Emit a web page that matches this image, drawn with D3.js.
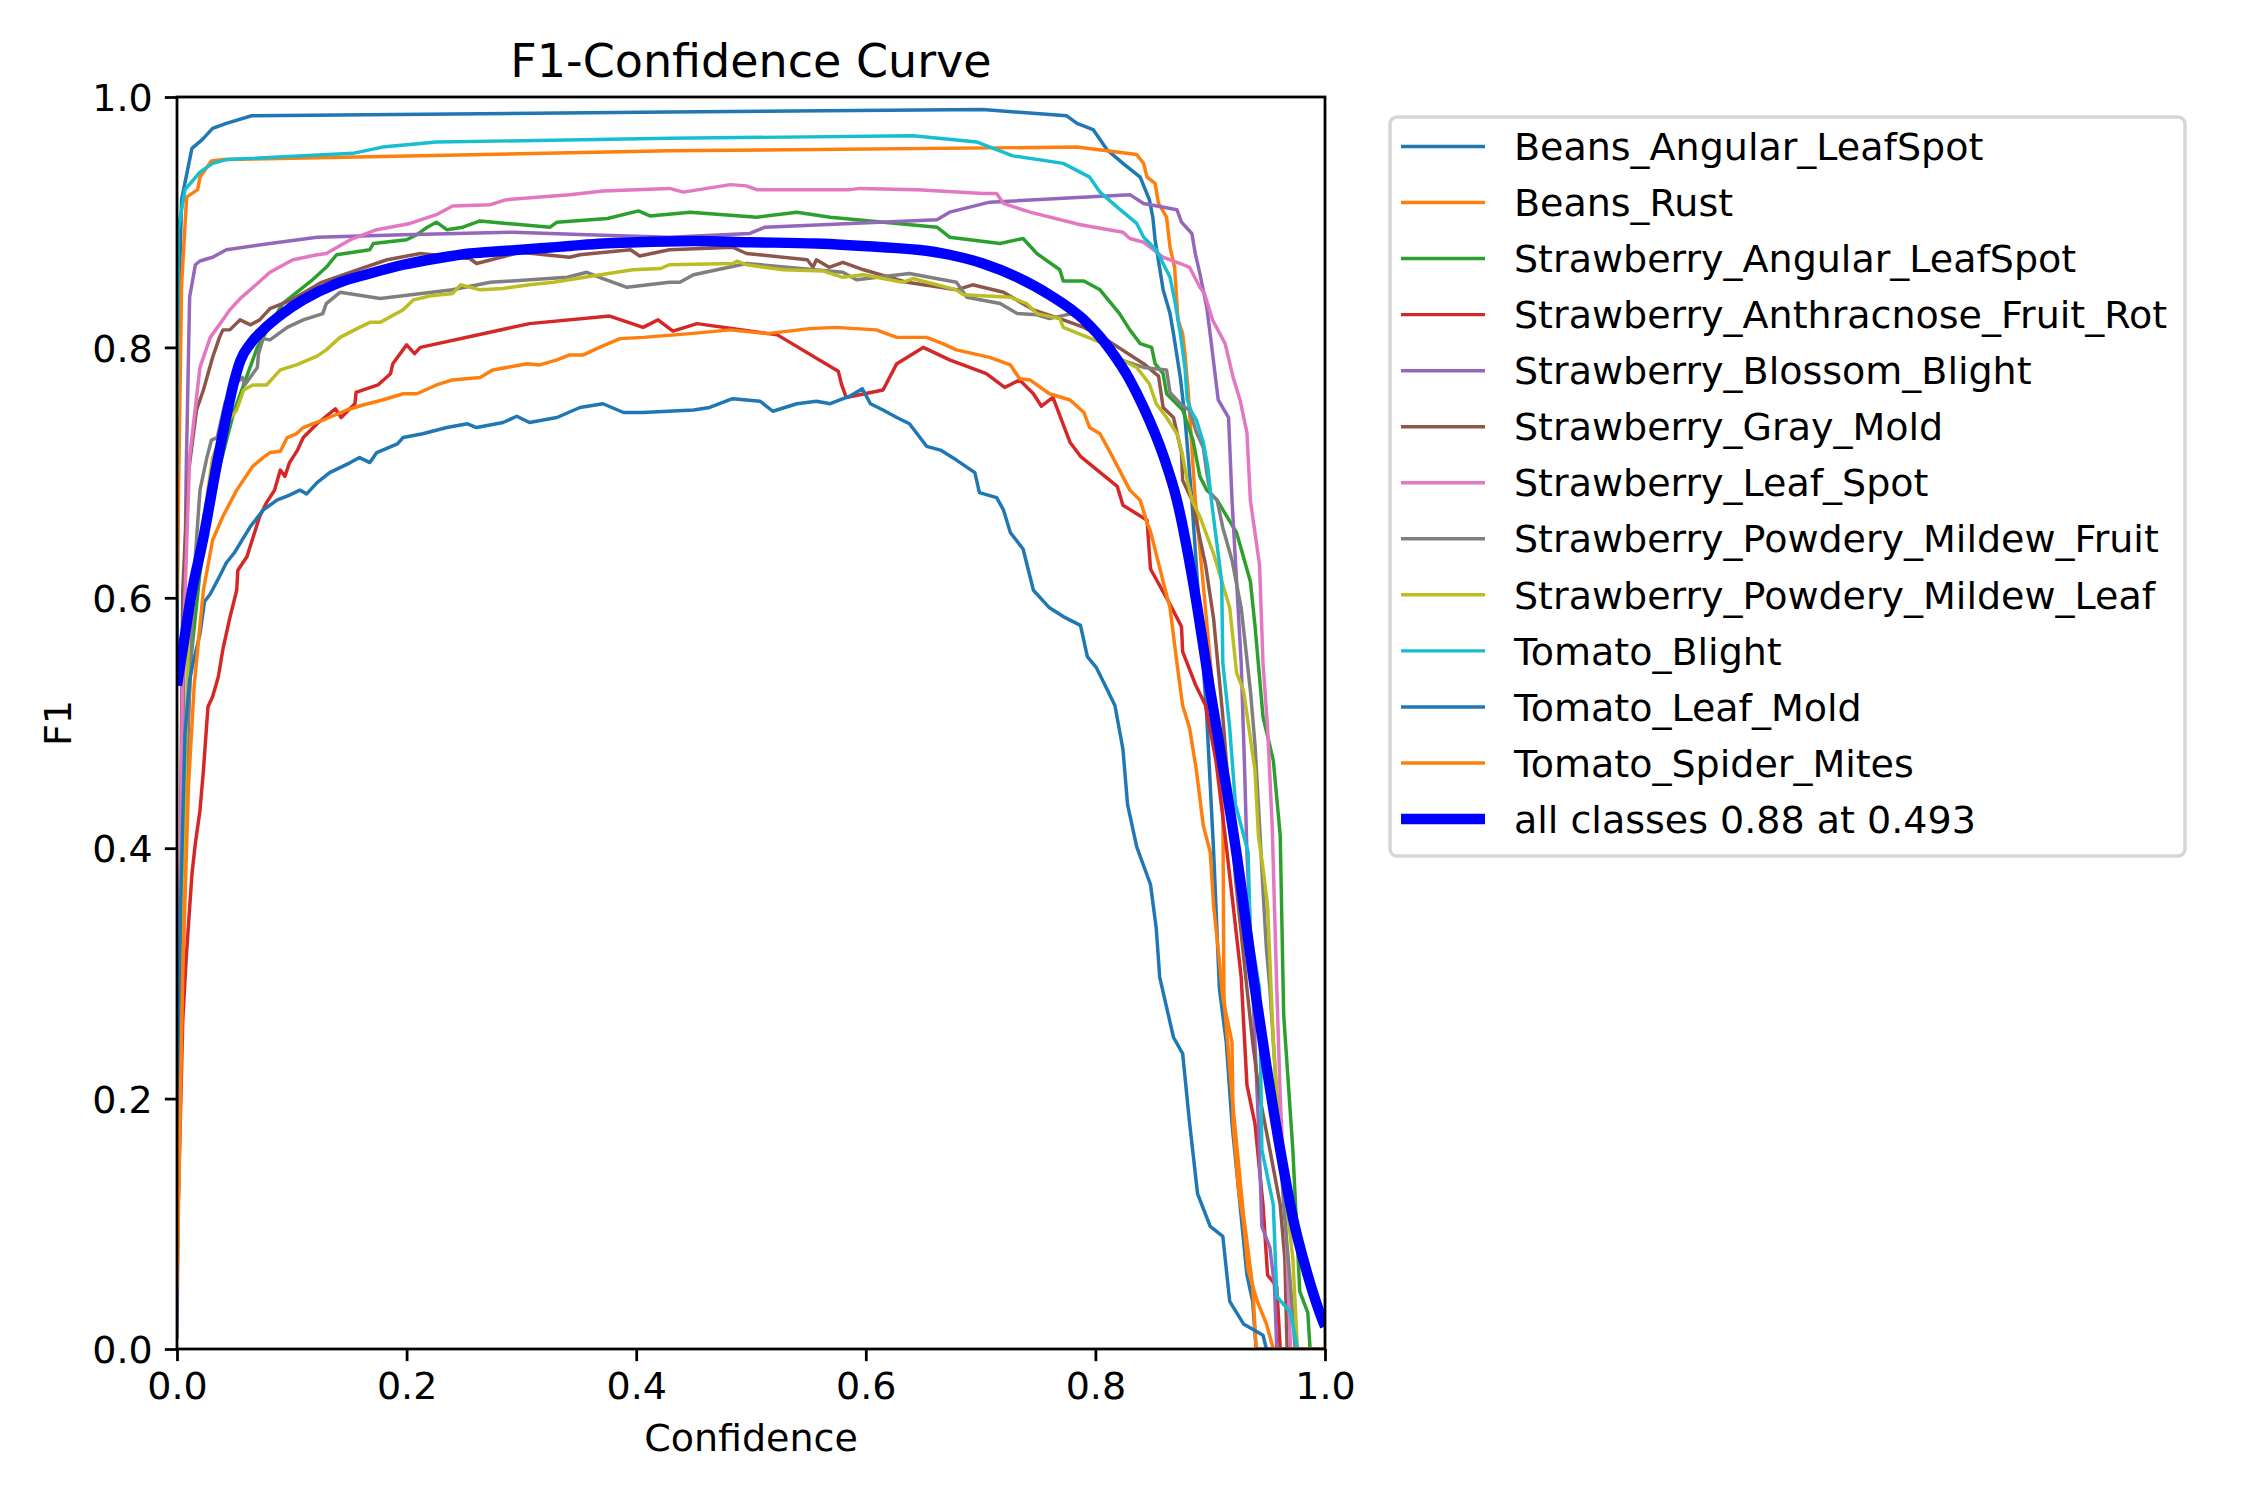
<!DOCTYPE html>
<html>
<head>
<meta charset="utf-8">
<script src="https://cdn.jsdelivr.net/npm/d3@7"></script>
<style>
  body { margin: 0; background: #fff; }
  svg { display: block; font-family: "DejaVu Sans", sans-serif; }
</style>
</head>
<body>
<div id="chart"></div>
<script>
// class names in plotting order
const classNames = [
    "Beans_Angular_LeafSpot", "Beans_Rust", "Strawberry_Angular_LeafSpot",
    "Strawberry_Anthracnose_Fruit_Rot", "Strawberry_Blossom_Blight", "Strawberry_Gray_Mold",
    "Strawberry_Leaf_Spot", "Strawberry_Powdery_Mildew_Fruit", "Strawberry_Powdery_Mildew_Leaf",
    "Tomato_Blight", "Tomato_Leaf_Mold", "Tomato_Spider_Mites"
];
const meanLabel = "all classes 0.88 at 0.493";
const xTicks = [0, 0.2, 0.4, 0.6, 0.8, 1.0];
const yTicks = [0, 0.2, 0.4, 0.6, 0.8, 1.0];

// [confidence, F1]
const beansAngularLeafSpot = [[0,0.55],[0.002,0.85],[0.004,0.918],[0.013,0.959],[0.022,0.966],[0.031,0.975],[0.043,0.979],[0.065,0.985],[0.429,0.988],[0.702,0.990],[0.775,0.985],[0.784,0.979],[0.798,0.974],[0.81,0.958],[0.824,0.947],[0.839,0.936],[0.847,0.918],[0.85,0.904],[0.852,0.886],[0.859,0.846],[0.865,0.827],[0.868,0.811],[0.874,0.776],[0.878,0.744],[0.884,0.678],[0.897,0.505],[0.903,0.397],[0.908,0.288],[0.914,0.245],[0.919,0.18],[0.926,0.115],[0.932,0.059],[0.937,0.038],[0.94,0],[1,0]];
const beansRust = [[0,0.6],[0.004,0.85],[0.0084,0.92],[0.018,0.926],[0.02,0.936],[0.03,0.949],[0.04,0.95],[0.429,0.957],[0.784,0.96],[0.836,0.954],[0.842,0.947],[0.845,0.936],[0.852,0.931],[0.855,0.915],[0.862,0.904],[0.865,0.88],[0.869,0.864],[0.872,0.822],[0.876,0.811],[0.878,0.795],[0.881,0.763],[0.884,0.72],[0.887,0.678],[0.895,0.6],[0.905,0.5],[0.911,0.44],[0.912,0.28],[0.919,0.202],[0.929,0.107],[0.937,0.05],[0.94,0],[1,0]];
const strawberryAngularLeafSpot = [[0,0.15],[0.003,0.3],[0.008,0.47],[0.012,0.55],[0.02,0.62],[0.03,0.68],[0.05,0.75],[0.07,0.8],[0.092,0.835],[0.118,0.854],[0.13,0.864],[0.139,0.874],[0.168,0.878],[0.171,0.883],[0.2,0.886],[0.209,0.89],[0.218,0.896],[0.226,0.9],[0.235,0.894],[0.249,0.896],[0.264,0.901],[0.287,0.899],[0.325,0.896],[0.331,0.9],[0.375,0.903],[0.402,0.909],[0.412,0.905],[0.447,0.908],[0.505,0.904],[0.54,0.908],[0.569,0.904],[0.662,0.896],[0.673,0.888],[0.717,0.883],[0.737,0.887],[0.749,0.875],[0.769,0.862],[0.772,0.853],[0.79,0.853],[0.804,0.846],[0.821,0.827],[0.83,0.814],[0.839,0.803],[0.849,0.8],[0.852,0.787],[0.859,0.779],[0.862,0.763],[0.876,0.75],[0.885,0.726],[0.891,0.697],[0.897,0.686],[0.906,0.678],[0.923,0.652],[0.935,0.613],[0.939,0.578],[0.946,0.505],[0.955,0.47],[0.961,0.41],[0.964,0.267],[0.972,0.159],[0.978,0.046],[0.985,0.029],[0.987,0],[1,0]];
const strawberryAnthracnoseFruitRot = [[0,0.08],[0.002,0.15],[0.005,0.262],[0.008,0.312],[0.013,0.379],[0.016,0.404],[0.02,0.43],[0.023,0.462],[0.027,0.513],[0.031,0.521],[0.036,0.537],[0.04,0.559],[0.046,0.584],[0.052,0.606],[0.053,0.622],[0.061,0.633],[0.072,0.665],[0.078,0.676],[0.085,0.686],[0.09,0.702],[0.094,0.697],[0.098,0.708],[0.105,0.718],[0.11,0.728],[0.122,0.739],[0.138,0.751],[0.143,0.744],[0.155,0.755],[0.156,0.764],[0.175,0.77],[0.186,0.779],[0.188,0.787],[0.2,0.802],[0.207,0.795],[0.212,0.8],[0.307,0.819],[0.377,0.825],[0.406,0.816],[0.419,0.822],[0.432,0.813],[0.453,0.819],[0.523,0.81],[0.576,0.781],[0.579,0.77],[0.583,0.76],[0.615,0.766],[0.627,0.787],[0.65,0.8],[0.673,0.79],[0.705,0.779],[0.721,0.768],[0.734,0.774],[0.746,0.763],[0.753,0.753],[0.763,0.76],[0.778,0.724],[0.787,0.713],[0.819,0.689],[0.824,0.674],[0.845,0.662],[0.848,0.623],[0.862,0.6],[0.875,0.577],[0.876,0.557],[0.887,0.531],[0.896,0.514],[0.905,0.47],[0.913,0.41],[0.92,0.354],[0.927,0.297],[0.932,0.211],[0.939,0.18],[0.946,0.115],[0.95,0.059],[0.958,0.05],[0.961,0],[1,0]];
const strawberryBlossomBlight = [[0,0.01],[0.004,0.4],[0.008,0.7],[0.011,0.84],[0.016,0.866],[0.02,0.869],[0.031,0.872],[0.043,0.878],[0.081,0.883],[0.122,0.888],[0.197,0.89],[0.293,0.892],[0.357,0.89],[0.429,0.888],[0.499,0.891],[0.512,0.896],[0.662,0.902],[0.673,0.908],[0.708,0.916],[0.83,0.922],[0.842,0.915],[0.871,0.91],[0.875,0.9],[0.884,0.891],[0.887,0.875],[0.891,0.859],[0.897,0.832],[0.901,0.803],[0.907,0.758],[0.916,0.744],[0.919,0.678],[0.923,0.613],[0.927,0.548],[0.93,0.462],[0.932,0.397],[0.937,0.288],[0.942,0.18],[0.945,0.098],[0.952,0.081],[0.956,0.05],[0.958,0],[1,0]];
const strawberryGrayMold = [[0,0.05],[0.002,0.3],[0.005,0.606],[0.01,0.7],[0.017,0.75],[0.023,0.766],[0.031,0.792],[0.037,0.808],[0.04,0.814],[0.046,0.814],[0.055,0.822],[0.064,0.818],[0.072,0.822],[0.081,0.831],[0.1,0.838],[0.126,0.852],[0.157,0.862],[0.183,0.87],[0.212,0.875],[0.255,0.871],[0.261,0.867],[0.299,0.876],[0.342,0.872],[0.351,0.874],[0.395,0.878],[0.403,0.873],[0.429,0.878],[0.484,0.88],[0.496,0.875],[0.549,0.87],[0.554,0.864],[0.557,0.87],[0.568,0.864],[0.58,0.868],[0.598,0.862],[0.636,0.852],[0.679,0.846],[0.693,0.85],[0.72,0.844],[0.746,0.83],[0.772,0.822],[0.79,0.816],[0.81,0.806],[0.842,0.787],[0.855,0.777],[0.859,0.752],[0.868,0.744],[0.875,0.716],[0.876,0.694],[0.884,0.678],[0.896,0.626],[0.903,0.583],[0.911,0.505],[0.922,0.376],[0.932,0.288],[0.937,0.245],[0.943,0.202],[0.952,0.159],[0.961,0.115],[0.965,0.072],[0.967,0],[1,0]];
const strawberryLeafSpot = [[0,0.05],[0.002,0.3],[0.005,0.55],[0.011,0.712],[0.02,0.784],[0.029,0.808],[0.04,0.822],[0.046,0.83],[0.055,0.839],[0.07,0.851],[0.081,0.86],[0.101,0.87],[0.122,0.874],[0.13,0.875],[0.151,0.886],[0.174,0.894],[0.203,0.899],[0.226,0.906],[0.24,0.913],[0.273,0.914],[0.287,0.918],[0.342,0.922],[0.371,0.925],[0.429,0.927],[0.441,0.924],[0.482,0.93],[0.496,0.929],[0.505,0.926],[0.586,0.926],[0.595,0.927],[0.645,0.926],[0.702,0.923],[0.714,0.923],[0.72,0.915],[0.743,0.908],[0.787,0.898],[0.824,0.892],[0.83,0.887],[0.842,0.884],[0.859,0.872],[0.874,0.867],[0.882,0.864],[0.891,0.848],[0.895,0.843],[0.902,0.822],[0.913,0.803],[0.92,0.776],[0.926,0.758],[0.932,0.732],[0.935,0.678],[0.943,0.626],[0.946,0.548],[0.95,0.496],[0.954,0.418],[0.958,0.288],[0.961,0.202],[0.964,0.137],[0.967,0.072],[0.97,0],[1,0]];
const strawberryPowderyMildewFruit = [[0,0.05],[0.004,0.3],[0.01,0.5],[0.015,0.62],[0.02,0.686],[0.026,0.712],[0.03,0.726],[0.035,0.728],[0.042,0.756],[0.05,0.77],[0.057,0.776],[0.059,0.77],[0.07,0.784],[0.071,0.795],[0.075,0.807],[0.081,0.806],[0.096,0.816],[0.11,0.822],[0.127,0.827],[0.13,0.835],[0.142,0.844],[0.177,0.839],[0.24,0.846],[0.273,0.852],[0.34,0.856],[0.357,0.86],[0.371,0.855],[0.392,0.848],[0.429,0.852],[0.438,0.852],[0.45,0.858],[0.496,0.867],[0.58,0.86],[0.592,0.854],[0.638,0.859],[0.679,0.852],[0.688,0.84],[0.717,0.835],[0.732,0.827],[0.749,0.826],[0.76,0.823],[0.784,0.828],[0.804,0.808],[0.819,0.791],[0.842,0.784],[0.862,0.782],[0.865,0.764],[0.875,0.754],[0.882,0.75],[0.888,0.732],[0.894,0.72],[0.897,0.7],[0.9,0.684],[0.906,0.678],[0.911,0.656],[0.919,0.63],[0.927,0.592],[0.935,0.526],[0.939,0.483],[0.943,0.418],[0.946,0.366],[0.949,0.319],[0.952,0.288],[0.958,0.202],[0.964,0.115],[0.97,0.05],[0.974,0],[1,0]];
const strawberryPowderyMildewLeaf = [[0,0.05],[0.004,0.3],[0.008,0.5],[0.011,0.606],[0.023,0.66],[0.031,0.712],[0.043,0.739],[0.052,0.75],[0.058,0.766],[0.066,0.77],[0.078,0.77],[0.09,0.782],[0.104,0.786],[0.122,0.793],[0.13,0.798],[0.142,0.808],[0.159,0.816],[0.168,0.82],[0.177,0.82],[0.197,0.83],[0.206,0.838],[0.22,0.841],[0.24,0.843],[0.247,0.85],[0.264,0.846],[0.284,0.847],[0.307,0.85],[0.328,0.852],[0.362,0.857],[0.397,0.862],[0.421,0.863],[0.429,0.866],[0.484,0.867],[0.488,0.869],[0.496,0.866],[0.528,0.862],[0.563,0.861],[0.58,0.856],[0.598,0.858],[0.632,0.852],[0.641,0.855],[0.679,0.846],[0.685,0.842],[0.726,0.84],[0.74,0.835],[0.749,0.827],[0.769,0.823],[0.772,0.816],[0.807,0.803],[0.819,0.792],[0.836,0.784],[0.847,0.771],[0.853,0.755],[0.862,0.744],[0.871,0.731],[0.875,0.718],[0.88,0.694],[0.884,0.678],[0.891,0.665],[0.903,0.635],[0.917,0.592],[0.923,0.54],[0.929,0.526],[0.935,0.488],[0.939,0.462],[0.942,0.41],[0.946,0.384],[0.95,0.354],[0.955,0.245],[0.958,0.202],[0.964,0.137],[0.972,0.072],[0.976,0],[1,0]];
const tomatoBlight = [[0,0.7],[0.001,0.894],[0.007,0.926],[0.02,0.94],[0.031,0.947],[0.043,0.95],[0.153,0.955],[0.179,0.96],[0.226,0.964],[0.429,0.967],[0.641,0.969],[0.697,0.964],[0.728,0.953],[0.772,0.947],[0.795,0.936],[0.804,0.924],[0.819,0.912],[0.836,0.899],[0.842,0.888],[0.853,0.878],[0.859,0.867],[0.865,0.856],[0.869,0.838],[0.874,0.811],[0.878,0.784],[0.88,0.758],[0.884,0.748],[0.888,0.742],[0.894,0.724],[0.898,0.704],[0.901,0.678],[0.91,0.613],[0.911,0.548],[0.917,0.496],[0.922,0.435],[0.933,0.397],[0.935,0.331],[0.939,0.31],[0.943,0.288],[0.945,0.159],[0.955,0.115],[0.958,0.042],[0.97,0.029],[0.976,0],[1,0]];
const tomatoLeafMold = [[0,0.15],[0.003,0.35],[0.007,0.492],[0.011,0.534],[0.014,0.548],[0.02,0.571],[0.024,0.597],[0.029,0.603],[0.037,0.617],[0.043,0.628],[0.05,0.636],[0.064,0.657],[0.075,0.67],[0.087,0.678],[0.098,0.682],[0.107,0.686],[0.113,0.683],[0.122,0.692],[0.133,0.7],[0.151,0.708],[0.159,0.712],[0.168,0.708],[0.174,0.716],[0.192,0.723],[0.197,0.728],[0.214,0.731],[0.235,0.736],[0.253,0.739],[0.261,0.736],[0.284,0.74],[0.296,0.745],[0.307,0.74],[0.331,0.744],[0.351,0.752],[0.371,0.755],[0.389,0.748],[0.406,0.748],[0.45,0.75],[0.464,0.752],[0.484,0.759],[0.508,0.757],[0.519,0.749],[0.54,0.755],[0.557,0.757],[0.569,0.755],[0.586,0.761],[0.597,0.767],[0.604,0.755],[0.615,0.75],[0.627,0.744],[0.638,0.739],[0.653,0.721],[0.665,0.718],[0.679,0.71],[0.695,0.7],[0.699,0.684],[0.714,0.68],[0.72,0.67],[0.726,0.652],[0.737,0.639],[0.746,0.606],[0.76,0.592],[0.772,0.585],[0.787,0.578],[0.793,0.553],[0.801,0.544],[0.808,0.531],[0.817,0.514],[0.824,0.479],[0.828,0.435],[0.836,0.401],[0.848,0.371],[0.853,0.336],[0.856,0.297],[0.868,0.249],[0.876,0.236],[0.882,0.181],[0.889,0.124],[0.9,0.098],[0.911,0.09],[0.917,0.038],[0.929,0.02],[0.946,0.011],[0.949,0],[1,0]];
const tomatoSpiderMites = [[0,0.05],[0.005,0.3],[0.01,0.45],[0.015,0.53],[0.023,0.606],[0.031,0.646],[0.04,0.665],[0.052,0.686],[0.066,0.705],[0.075,0.712],[0.081,0.716],[0.09,0.717],[0.096,0.728],[0.104,0.731],[0.11,0.736],[0.118,0.739],[0.13,0.743],[0.148,0.75],[0.162,0.754],[0.179,0.758],[0.197,0.763],[0.209,0.763],[0.226,0.77],[0.24,0.774],[0.264,0.776],[0.275,0.782],[0.287,0.784],[0.305,0.787],[0.316,0.786],[0.331,0.79],[0.342,0.794],[0.354,0.794],[0.368,0.8],[0.386,0.807],[0.406,0.808],[0.447,0.811],[0.482,0.814],[0.514,0.811],[0.551,0.815],[0.574,0.816],[0.609,0.814],[0.627,0.808],[0.653,0.808],[0.667,0.803],[0.679,0.798],[0.708,0.792],[0.726,0.786],[0.734,0.775],[0.743,0.774],[0.76,0.763],[0.778,0.758],[0.79,0.748],[0.795,0.736],[0.804,0.731],[0.813,0.716],[0.821,0.702],[0.83,0.686],[0.839,0.678],[0.845,0.66],[0.848,0.653],[0.859,0.613],[0.865,0.592],[0.871,0.548],[0.876,0.514],[0.882,0.496],[0.888,0.462],[0.894,0.418],[0.9,0.397],[0.903,0.354],[0.908,0.31],[0.911,0.28],[0.919,0.245],[0.92,0.18],[0.925,0.124],[0.929,0.102],[0.933,0.063],[0.941,0.038],[0.949,0.02],[0.955,0],[1,0]];
const allClasses = [[0,0.53],[0.006,0.565],[0.012,0.6],[0.023,0.648],[0.035,0.708],[0.043,0.745],[0.049,0.77],[0.055,0.789],[0.064,0.803],[0.075,0.814],[0.092,0.827],[0.11,0.838],[0.139,0.851],[0.168,0.859],[0.197,0.866],[0.226,0.871],[0.255,0.875],[0.284,0.877],[0.314,0.879],[0.342,0.881],[0.371,0.883],[0.401,0.884],[0.45,0.885],[0.499,0.884],[0.557,0.883],[0.615,0.88],[0.645,0.878],[0.673,0.874],[0.702,0.867],[0.732,0.856],[0.76,0.842],[0.79,0.822],[0.813,0.798],[0.83,0.774],[0.842,0.752],[0.859,0.714],[0.871,0.678],[0.885,0.613],[0.9,0.526],[0.914,0.449],[0.926,0.376],[0.937,0.3],[0.949,0.226],[0.961,0.159],[0.972,0.105],[0.984,0.062],[0.995,0.03],[1,0.018]];

const classSeries = [
    beansAngularLeafSpot, beansRust, strawberryAngularLeafSpot, strawberryAnthracnoseFruitRot,
    strawberryBlossomBlight, strawberryGrayMold, strawberryLeafSpot, strawberryPowderyMildewFruit,
    strawberryPowderyMildewLeaf, tomatoBlight, tomatoLeafMold, tomatoSpiderMites
];
const palette = ["#1f77b4", "#ff7f0e", "#2ca02c", "#d62728", "#9467bd", "#8c564b",
                 "#e377c2", "#7f7f7f", "#bcbd22", "#17becf"];

// matplotlib figure: 9x6 in at 250 dpi, 1pt = 250/72 px
const pt = 250 / 72;
const W = 2250, H = 1500;
const plot = { left: 177, right: 1325, top: 97, bottom: 1349 };
const fontSize = 38;
const titleSize = 46;

const svg = d3.select("#chart").append("svg")
    .attr("width", W).attr("height", H)
    .attr("viewBox", `0 0 ${W} ${H}`);
svg.append("rect").attr("width", W).attr("height", H).attr("fill", "#fff");

const x = d3.scaleLinear().domain([0, 1]).range([plot.left, plot.right]);
const y = d3.scaleLinear().domain([0, 1]).range([plot.bottom, plot.top]);

svg.append("clipPath").attr("id", "plot-clip").append("rect")
    .attr("x", plot.left).attr("y", plot.top)
    .attr("width", plot.right - plot.left).attr("height", plot.bottom - plot.top);

const line = d3.line().x(d => x(d[0])).y(d => y(d[1]));
const smoothLine = d3.line().x(d => x(d[0])).y(d => y(d[1])).curve(d3.curveMonotoneX);

const lines = svg.append("g").attr("clip-path", "url(#plot-clip)");
lines.selectAll("path.cls").data(classSeries).enter().append("path")
    .attr("class", "cls")
    .attr("d", line)
    .attr("fill", "none")
    .attr("stroke", (d, i) => palette[i % palette.length])
    .attr("stroke-width", 1 * pt)
    .attr("stroke-linejoin", "round")
    .attr("stroke-linecap", "square");
lines.append("path").datum(allClasses)
    .attr("d", smoothLine)
    .attr("fill", "none")
    .attr("stroke", "#0000ff")
    .attr("stroke-width", 3 * pt)
    .attr("stroke-linejoin", "round");

// axes
const xAxis = svg.append("g").attr("transform", `translate(0,${plot.bottom})`)
    .call(d3.axisBottom(x).tickValues(xTicks).tickFormat(d3.format(".1f"))
        .tickSize(3.5 * pt).tickPadding(3.5 * pt).tickSizeOuter(0));
const yAxis = svg.append("g").attr("transform", `translate(${plot.left},0)`)
    .call(d3.axisLeft(y).tickValues(yTicks).tickFormat(d3.format(".1f"))
        .tickSize(3.5 * pt).tickPadding(3.5 * pt).tickSizeOuter(0));
[xAxis, yAxis].forEach(g => {
    g.select(".domain").remove();
    g.selectAll(".tick line").attr("stroke", "#000").attr("stroke-width", 0.8 * pt);
    g.selectAll(".tick text").attr("fill", "#000")
        .style("font-size", `${fontSize}px`).style("font-family", "DejaVu Sans");
});
xAxis.selectAll(".tick text").attr("dy", "0.68em");
yAxis.selectAll(".tick text").attr("dy", "0.36em");

// spines
svg.append("rect")
    .attr("x", plot.left).attr("y", plot.top)
    .attr("width", plot.right - plot.left).attr("height", plot.bottom - plot.top)
    .attr("fill", "none").attr("stroke", "#000").attr("stroke-width", 0.8 * pt);

// labels
svg.append("text").attr("x", (plot.left + plot.right) / 2).attr("y", 77)
    .attr("text-anchor", "middle").style("font-size", `${titleSize}px`)
    .text("F1-Confidence Curve");
svg.append("text").attr("x", (plot.left + plot.right) / 2).attr("y", 1451)
    .attr("text-anchor", "middle").style("font-size", `${fontSize}px`)
    .text("Confidence");
svg.append("text")
    .attr("transform", `translate(71,${(plot.top + plot.bottom) / 2}) rotate(-90)`)
    .attr("text-anchor", "middle").style("font-size", `${fontSize}px`)
    .text("F1");

// legend
const legendItems = classNames.map((name, i) => ({ name, color: palette[i % palette.length], width: 1 * pt }))
    .concat([{ name: meanLabel, color: "#0000ff", width: 3 * pt }]);
const legend = svg.append("g");
legend.append("rect")
    .attr("x", 1390).attr("y", 117).attr("width", 795).attr("height", 739)
    .attr("rx", 7).attr("ry", 7)
    .attr("fill", "#fff").attr("fill-opacity", 0.8)
    .attr("stroke", "#d6d6d6").attr("stroke-width", 1 * pt);
const rowY = d3.scaleLinear().domain([0, legendItems.length - 1]).range([146.5, 819]);
const rows = legend.selectAll("g.row").data(legendItems).enter().append("g")
    .attr("class", "row")
    .attr("transform", (d, i) => `translate(0,${rowY(i)})`);
rows.append("line")
    .attr("x1", 1401).attr("x2", 1485)
    .attr("stroke", d => d.color).attr("stroke-width", d => d.width);
rows.append("text")
    .attr("x", 1514).attr("y", 0).attr("dy", "0.36em")
    .style("font-size", `${fontSize}px`)
    .text(d => d.name);
</script>
</body>
</html>
